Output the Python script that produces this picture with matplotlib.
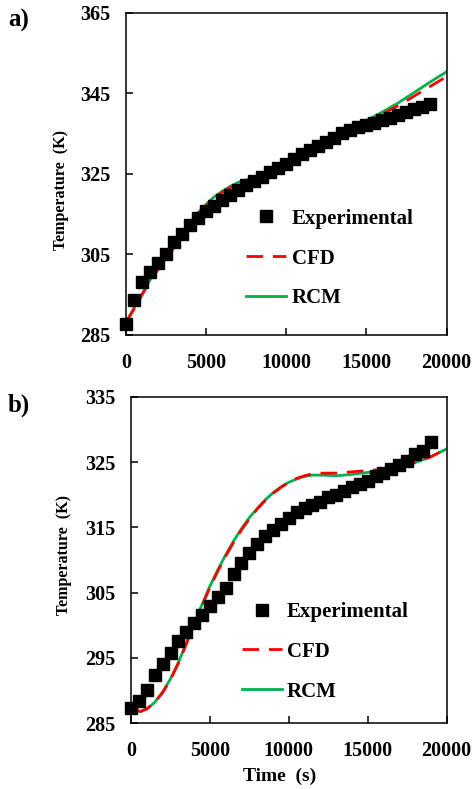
import matplotlib
matplotlib.use("Agg")
import matplotlib.pyplot as plt

plt.rcParams['font.family'] = ['Liberation Serif', 'DejaVu Serif']
plt.rcParams['font.weight'] = 'bold'

# ---------------- data ----------------
exp_time = [0, 500, 1000, 1500, 2000, 2500, 3000, 3500, 4000, 4500, 5000, 5500, 6000,
            6500, 7000, 7500, 8000, 8500, 9000, 9500, 10000, 10500, 11000, 11500, 12000,
            12500, 13000, 13500, 14000, 14500, 15000, 15500, 16000, 16500, 17000, 17500,
            18000, 18500, 19000]

exp_a = [287.6, 293.7, 298.1, 300.6, 302.9, 305.1, 307.9, 310.1, 312.2, 314.0, 315.7, 317.0,
         318.4, 319.7, 320.9, 322.1, 323.1, 324.2, 325.3, 326.3, 327.5, 328.5, 329.8, 330.8,
         331.9, 332.9, 333.9, 335.0, 335.8, 336.6, 337.1, 337.5, 338.3, 338.9, 339.5, 340.4,
         341.0, 341.6, 342.4]

exp_b = [287.4, 288.4, 290.1, 292.4, 294.1, 295.8, 297.6, 299.0, 300.4, 301.6, 302.9, 304.4,
         305.7, 307.8, 309.6, 311.0, 312.4, 313.6, 314.6, 315.5, 316.4, 317.4, 317.9, 318.4,
         318.9, 319.7, 320.0, 320.6, 321.1, 321.6, 322.1, 322.8, 323.3, 324.0, 324.5, 325.1,
         326.2, 326.7, 328.1]

model_time_a = [0, 250, 500, 1000, 1500, 2000, 2500, 3000, 3500, 4000, 4500, 5000, 5500, 6000,
                6500, 7000, 7500, 8000, 8500, 9000, 9500, 10000, 11000, 12000, 13000, 14000,
                14500, 15000, 16000, 17000, 18000, 19000, 20000]
rcm_a = [288.0, 289.8, 291.5, 295.0, 298.5, 301.3, 304.0, 306.8, 309.8, 312.8, 315.3, 317.3,
         319.2, 320.6, 321.8, 322.8, 323.4, 323.8, 324.5, 325.4, 326.3, 327.3, 329.4, 331.5,
         333.6, 335.8, 337.0, 338.2, 340.3, 342.6, 345.2, 347.8, 350.3]
cfd_a = [288.0, 289.6, 291.3, 294.8, 298.3, 301.1, 303.8, 306.6, 309.6, 312.5, 315.0, 317.0,
         318.9, 320.3, 321.5, 322.5, 323.2, 323.7, 324.4, 325.3, 326.2, 327.2, 329.3, 331.4,
         333.5, 335.7, 336.9, 337.9, 339.8, 341.9, 344.3, 346.7, 349.1]

model_time_b = [300, 600, 1000, 1500, 2000, 2500, 3000, 3500, 4000, 4500, 5000, 5500, 6000,
                6500, 7000, 7500, 8000, 8500, 9000, 9500, 10000, 10500, 11000, 11500, 12000,
                13000, 14000, 15000, 16000, 17000, 18000, 19000, 20000]
rcm_b = [287.0, 286.8, 287.2, 288.2, 289.8, 291.8, 294.3, 297.3, 300.3, 303.2, 306.0, 308.5,
         310.8, 312.9, 314.8, 316.5, 317.9, 319.2, 320.3, 321.2, 321.9, 322.4, 322.8, 323.0,
         323.0, 322.9, 323.1, 323.4, 323.7, 324.2, 324.9, 325.8, 327.0]
cfd_b = [287.0, 286.8, 287.2, 288.2, 289.7, 291.7, 294.2, 297.1, 300.1, 303.0, 305.8, 308.3,
         310.6, 312.7, 314.6, 316.3, 317.8, 319.1, 320.2, 321.1, 321.9, 322.5, 322.9, 323.2,
         323.3, 323.3, 323.5, 323.7, 323.9, 324.3, 324.9, 325.8, 327.0]

x_ticks = [0, 5000, 10000, 15000, 20000]
y_ticks_a = [285, 305, 325, 345, 365]
y_ticks_b = [285, 295, 305, 315, 325, 335]

GREEN = '#00B050'
RED = '#FF0000'

fig = plt.figure(figsize=(4.75, 7.89), dpi=100)
ax_a = fig.add_axes([0.265, 0.576, 0.675, 0.408])
ax_b = fig.add_axes([0.276, 0.0833, 0.664, 0.4139])


def style(ax, yticks, ylim):
    ax.set_xlim(0, 20000)
    ax.set_ylim(*ylim)
    ax.set_xticks(x_ticks)
    ax.set_yticks(yticks)
    ax.tick_params(direction='in', length=5, width=1.1, labelsize=14.5,
                   top=False, right=False)
    ax.tick_params(axis='x', pad=13)
    ax.tick_params(axis='y', pad=11)
    for lab in ax.get_xticklabels() + ax.get_yticklabels():
        lab.set_fontweight('bold')
    for sp in ax.spines.values():
        sp.set_linewidth(1.1)


def draw(ax, exp, tm, rcm, cfd):
    ax.plot(tm, rcm, color=GREEN, lw=2.0, label='RCM', zorder=2)
    ax.plot(tm, cfd, color=RED, lw=2.0, dashes=(6, 3.5), label='CFD', zorder=2.5)
    ax.plot(exp_time, exp, 's', color='black', ms=9, label='Experimental', zorder=3,
            clip_on=False)


draw(ax_a, exp_a, model_time_a, rcm_a, cfd_a)
draw(ax_b, exp_b, model_time_b, rcm_b, cfd_b)
style(ax_a, y_ticks_a, (285, 365))
style(ax_b, y_ticks_b, (285, 335))

for ax, anchor in ((ax_a, (0.376, 0.236)), (ax_b, (0.351, 0.219))):
    h, l = ax.get_legend_handles_labels()
    order = [2, 1, 0]
    leg = ax.legend([h[i] for i in order], [l[i] for i in order], loc='center left',
                    bbox_to_anchor=anchor, frameon=False, borderpad=0, borderaxespad=0,
                    handlelength=1.92, handletextpad=0.25, labelspacing=0.95,
                    prop={'family': 'Liberation Serif', 'weight': 'bold', 'size': 15})

ax_a.set_ylabel('Temperature  (K)', fontsize=11.5, fontweight='bold')
ax_a.yaxis.set_label_coords(-0.178, 0.448)
ax_b.set_ylabel('Temperature  (K)', fontsize=11.5, fontweight='bold')
ax_b.yaxis.set_label_coords(-0.187, 0.515)
ax_b.set_xlabel('Time  (s)', fontsize=14, fontweight='bold')
ax_b.xaxis.set_label_coords(0.472, -0.137)

fig.text(8 / 475, 1 - 20 / 789, 'a)', fontsize=18, fontweight='bold', va='center', ha='left')
fig.text(8 / 475, 1 - 405 / 789, 'b)', fontsize=18, fontweight='bold', va='center', ha='left')

fig.savefig('out.png', dpi=100)
